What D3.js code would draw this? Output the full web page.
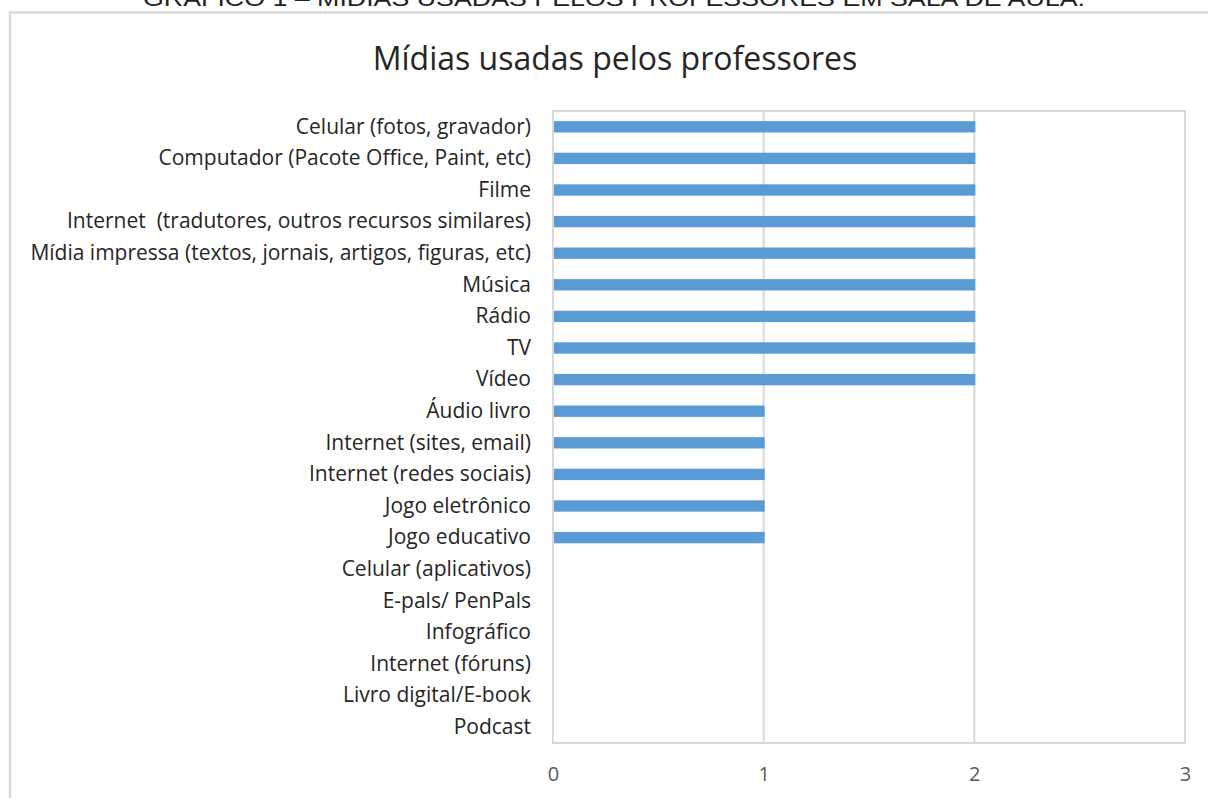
<!DOCTYPE html>
<html>
<head>
<meta charset="utf-8">
<script src="https://cdn.jsdelivr.net/npm/d3@7"></script>
<style>
  body { margin: 0; background: #fff; }
  svg text { font-family: "Open Sans", sans-serif; white-space: pre; }
</style>
</head>
<body>
<svg id="chart"></svg>
<script>
// Data
const categories = [
  "Celular (fotos, gravador)",
  "Computador (Pacote Office, Paint, etc)",
  "Filme",
  "Internet  (tradutores, outros recursos similares)",
  "Mídia impressa (textos, jornais, artigos, figuras, etc)",
  "Música",
  "Rádio",
  "TV",
  "Vídeo",
  "Áudio livro",
  "Internet (sites, email)",
  "Internet (redes sociais)",
  "Jogo eletrônico",
  "Jogo educativo",
  "Celular (aplicativos)",
  "E-pals/ PenPals",
  "Infográfico",
  "Internet (fóruns)",
  "Livro digital/E-book",
  "Podcast"
];
const values = [2, 2, 2, 2, 2, 2, 2, 2, 2, 1, 1, 1, 1, 1, 0, 0, 0, 0, 0, 0];
const xTicks = [0, 1, 2, 3];

const chartTitle = "Mídias usadas pelos professores";
const caption = "GRÁFICO 1 – MÍDIAS USADAS PELOS PROFESSORES EM SALA DE AULA.";

const W = 1208, H = 798;
const plot = { left: 553, right: 1185, top: 111, bottom: 743 };

const svg = d3.select("#chart").attr("width", W).attr("height", H);

// caption cut off at the top of the picture
svg.append("text")
   .attr("x", 614).attr("y", 6)
   .attr("text-anchor", "middle")
   .style("font-family", "'Liberation Sans', Arial, sans-serif")
   .style("font-size", "22px")
   .attr("fill", "#222")
   .attr("textLength", 942)
   .attr("lengthAdjust", "spacingAndGlyphs")
   .text(caption);

// outer chart border
svg.append("rect")
   .attr("x", 10).attr("y", 12.5)
   .attr("width", 1220).attr("height", 820)
   .attr("fill", "#fff")
   .attr("stroke", "#d9d9d9").attr("stroke-width", 2.5);

// title
svg.append("text")
   .attr("x", 615).attr("y", 70)
   .attr("text-anchor", "middle")
   .style("font-size", "32px")
   .attr("fill", "#262626")
   .text(chartTitle);

const x = d3.scaleLinear().domain([0, 3]).range([plot.left, plot.right]);
const y = d3.scaleBand().domain(categories).range([plot.top, plot.bottom]).paddingInner(0.64).paddingOuter(0.32);

// gridlines
svg.append("g")
   .selectAll("line")
   .data(xTicks)
   .join("line")
   .attr("x1", d => x(d)).attr("x2", d => x(d))
   .attr("y1", plot.top).attr("y2", plot.bottom)
   .attr("stroke", "#d9d9d9").attr("stroke-width", 2);

// plot border
svg.append("rect")
   .attr("x", plot.left).attr("y", plot.top)
   .attr("width", plot.right - plot.left).attr("height", plot.bottom - plot.top)
   .attr("fill", "none")
   .attr("stroke", "#d9d9d9").attr("stroke-width", 2);

// bars
svg.append("g")
   .selectAll("rect")
   .data(values)
   .join("rect")
   .attr("x", x(0) + 1)
   .attr("y", (d, i) => y(categories[i]))
   .attr("width", d => Math.max(0, x(d) - x(0)))
   .attr("height", y.bandwidth())
   .attr("fill", "#5b9bd5")
   .attr("opacity", d => d > 0 ? 1 : 0);

// category labels
const yAxis = svg.append("g")
   .attr("transform", `translate(${plot.left}, 0)`)
   .call(d3.axisLeft(y).tickSize(0).tickPadding(22));
yAxis.select(".domain").remove();
yAxis.selectAll("text")
   .style("font-family", "'Open Sans', sans-serif")
   .style("font-size", "21px")
   .style("white-space", "pre")
   .attr("fill", "#262626");

// x axis labels
const xAxis = svg.append("g")
   .attr("transform", `translate(0, ${plot.bottom})`)
   .call(d3.axisBottom(x).tickValues(xTicks).tickFormat(d3.format("d")).tickSize(0).tickPadding(24));
xAxis.select(".domain").remove();
xAxis.selectAll("text")
   .style("font-family", "'Open Sans', sans-serif")
   .style("font-size", "20px")
   .attr("fill", "#595959");
</script>
</body>
</html>
